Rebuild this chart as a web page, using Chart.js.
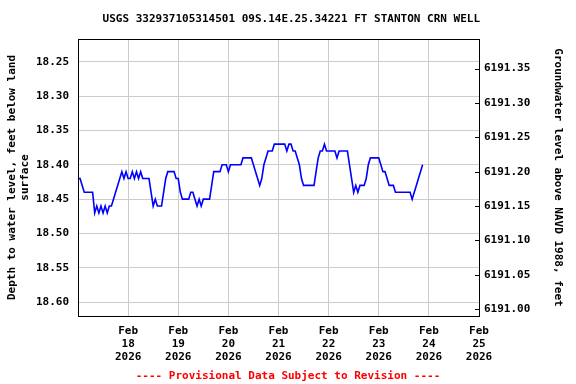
<!DOCTYPE html>
<html>
<head>
<meta charset="utf-8">
<script src="https://cdn.jsdelivr.net/npm/chart.js@4/dist/chart.umd.min.js"></script>
<style>
  html, body { margin: 0; padding: 0; background: #fff; }
  #wrap { width: 576px; height: 384px; }
</style>
</head>
<body>
<div id="wrap"><canvas id="gwChart" width="576" height="384"></canvas></div>
<script>
// Hourly depth to water (ft below land surface), starting Feb 17 2026 00:00
const hourlyDepth = [
  18.42, 18.42, 18.43, 18.44, 18.44, 18.44, 18.44, 18.44, 18.47, 18.46,
  18.47, 18.46, 18.47, 18.46, 18.47, 18.46, 18.46, 18.45, 18.44, 18.43,
  18.42, 18.41, 18.42, 18.41, 18.42, 18.42, 18.41, 18.42, 18.41, 18.42,
  18.41, 18.42, 18.42, 18.42, 18.42, 18.44, 18.46, 18.45, 18.46, 18.46,
  18.46, 18.44, 18.42, 18.41, 18.41, 18.41, 18.41, 18.42, 18.42, 18.44,
  18.45, 18.45, 18.45, 18.45, 18.44, 18.44, 18.45, 18.46, 18.45, 18.46,
  18.45, 18.45, 18.45, 18.45, 18.43, 18.41, 18.41, 18.41, 18.41, 18.40,
  18.40, 18.40, 18.41, 18.40, 18.40, 18.40, 18.40, 18.40, 18.40, 18.39,
  18.39, 18.39, 18.39, 18.39, 18.40, 18.41, 18.42, 18.43, 18.42, 18.40,
  18.39, 18.38, 18.38, 18.38, 18.37, 18.37, 18.37, 18.37, 18.37, 18.37,
  18.38, 18.37, 18.37, 18.38, 18.38, 18.39, 18.40, 18.42, 18.43, 18.43,
  18.43, 18.43, 18.43, 18.43, 18.41, 18.39, 18.38, 18.38, 18.37, 18.38,
  18.38, 18.38, 18.38, 18.38, 18.39, 18.38, 18.38, 18.38, 18.38, 18.38,
  18.40, 18.42, 18.44, 18.43, 18.44, 18.43, 18.43, 18.43, 18.42, 18.40,
  18.39, 18.39, 18.39, 18.39, 18.39, 18.40, 18.41, 18.41, 18.42, 18.43,
  18.43, 18.43, 18.44, 18.44, 18.44, 18.44, 18.44, 18.44, 18.44, 18.44,
  18.45, 18.44, 18.43, 18.42, 18.41, 18.40
];

// Land surface elevation, ft above NAVD 1988
const landSurface = 6209.61;

// Axis ticks (x in hours from Feb 17 2026 00:00)
const dayTicks = [24, 48, 72, 96, 120, 144, 168, 192];
const dayLabels = ['18', '19', '20', '21', '22', '23', '24', '25'];
const depthTicks = [18.25, 18.30, 18.35, 18.40, 18.45, 18.50, 18.55, 18.60];
const elevTicks = [6191.00, 6191.05, 6191.10, 6191.15, 6191.20, 6191.25, 6191.30, 6191.35];

const depthMin = 18.217;
const depthMax = 18.620;

const font = { family: '"DejaVu Sans Mono", monospace', size: 11, weight: 'bold', lineHeight: 1.18 };

// Frame around the plot area plus small inward ticks on the right axis
const framePlugin = {
  id: 'frame',
  afterDraw(chart) {
    const { ctx, chartArea } = chart;
    const y2 = chart.scales.y2;
    ctx.save();
    ctx.strokeStyle = '#000';
    ctx.lineWidth = 1;
    ctx.strokeRect(Math.round(chartArea.left) + 0.5, Math.round(chartArea.top) + 0.5,
      Math.round(chartArea.right - chartArea.left), Math.round(chartArea.bottom - chartArea.top));
    elevTicks.forEach(v => {
      const py = Math.round(y2.getPixelForValue(v)) + 0.5;
      ctx.beginPath();
      ctx.moveTo(chartArea.right - 4, py);
      ctx.lineTo(chartArea.right, py);
      ctx.stroke();
    });
    ctx.restore();
  }
};

new Chart(document.getElementById('gwChart').getContext('2d'), {
  type: 'line',
  data: {
    datasets: [{
      data: hourlyDepth.map((v, i) => ({ x: i, y: v })),
      borderColor: '#0000ff',
      backgroundColor: 'transparent',
      borderWidth: 1.6,
      pointRadius: 0,
      tension: 0,
      yAxisID: 'y'
    }]
  },
  options: {
    responsive: false,
    animation: false,
    layout: { padding: 0 },
    plugins: {
      legend: { display: false },
      tooltip: { enabled: false },
      title: {
        display: true,
        text: ' USGS 332937105314501 09S.14E.25.34221 FT STANTON CRN WELL',
        color: '#000',
        font,
        padding: { top: 13, bottom: 13 }
      },
      subtitle: {
        display: true,
        position: 'bottom',
        text: '---- Provisional Data Subject to Revision ----',
        color: '#ff0000',
        font,
        padding: { top: 4, bottom: 1 }
      }
    },
    scales: {
      x: {
        type: 'linear',
        min: 0,
        max: 192,
        afterBuildTicks: axis => { axis.ticks = dayTicks.map(v => ({ value: v })); },
        afterFit: axis => { axis.height = 50; },
        grid: { color: '#cccccc', lineWidth: 1, drawTicks: false },
        border: { display: false },
        ticks: {
          color: '#000',
          font,
          padding: 9,
          maxRotation: 0,
          autoSkip: false,
          callback: v => ['Feb', dayLabels[dayTicks.indexOf(v)], '2026']
        }
      },
      y: {
        type: 'linear',
        position: 'left',
        reverse: true,
        min: depthMin,
        max: depthMax,
        afterBuildTicks: axis => { axis.ticks = depthTicks.map(v => ({ value: v })); },
        afterFit: axis => { axis.width = 78; },
        grid: { color: '#cccccc', lineWidth: 1, drawTicks: false },
        border: { display: false },
        ticks: { color: '#000', font, padding: 9, callback: v => v.toFixed(2) },
        title: {
          display: true,
          text: ['Depth to water level, feet below land', 'surface'],
          color: '#000',
          font,
          padding: { top: 6, bottom: 0 }
        }
      },
      y2: {
        type: 'linear',
        position: 'right',
        min: landSurface - depthMax,
        max: landSurface - depthMin,
        afterBuildTicks: axis => { axis.ticks = elevTicks.map(v => ({ value: v })); },
        afterFit: axis => { axis.width = 97; },
        grid: { display: false, drawOnChartArea: false, drawTicks: false },
        border: { display: false },
        ticks: { color: '#000', font, padding: 5, callback: v => v.toFixed(2) },
        title: {
          display: true,
          text: 'Groundwater level above NAVD 1988, feet',
          color: '#000',
          font,
          padding: { top: 12, bottom: 0 }
        }
      }
    }
  },
  plugins: [framePlugin]
});
</script>
</body>
</html>
